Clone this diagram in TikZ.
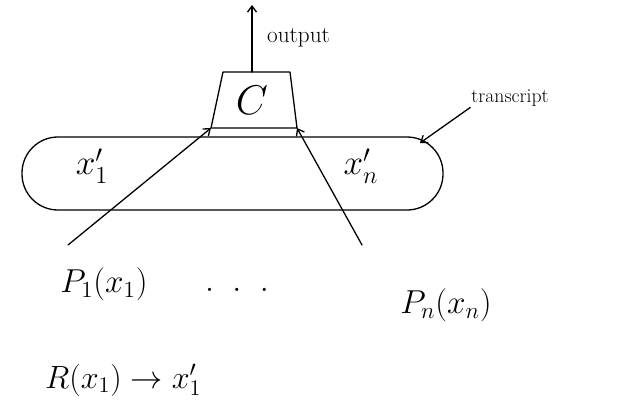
\documentclass[tikz,border=0pt]{standalone}
\usepackage{graphicx}
\usetikzlibrary{arrows.meta}
\newcommand{\enlarge}[2]{\scalebox{#1}{#2}}
\begin{document}
\begin{tikzpicture}[x=1pt,y=-1pt,
  ink/.style={line width=1.3pt, line cap=round, line join=round},
  arr/.style={ink, -{Straight Barb[length=6pt,width=9pt]}},
  lbl/.style={font=\huge, inner sep=1pt},
  mathlbl/.style={font=\huge, inner sep=1pt}]
\useasboundingbox (0,0) rectangle (629,420);

% combiner box C
\coordinate (tl) at (223,72);
\coordinate (tr) at (290,72);
\coordinate (br) at (297,128);
\coordinate (bl) at (211,128);
\coordinate (ctop) at (252,72);
\draw[ink] (tl) -- (tr) -- (br) -- (bl) -- cycle;
\node[mathlbl] (c) at (252,100) {\enlarge{2.0}{$C$}};

% output
\coordinate (out) at (252,5);
\draw[arr] (ctop) -- (out);
\node[lbl, anchor=west] (outlbl) at (266,38) {\enlarge{1.12}{output}};

% transcript
\node[ink, draw, rounded corners=36pt, minimum width=421pt, minimum height=73pt] (blob) at (232.5,173.5) {};
\node[mathlbl] (x1p) at (92,166) {\enlarge{1.7}{$x_1'$}};
\node[mathlbl] (xnp) at (361,166) {\enlarge{1.7}{$x_n'$}};
\node[lbl] (tlabel) at (510,98) {\enlarge{0.95}{transcript}};
\coordinate (tend) at (420,143);
\draw[arr] (tlabel.south west) -- (tend);

% parties
\node[mathlbl] (p1) at (104,284) {\enlarge{1.6}{$P_1(x_1)$}};
\node[mathlbl] (dots) at (237,290) {\enlarge{1.6}{$.\;\;.\;\;.$}};
\node[mathlbl] (pn) at (446,305) {\enlarge{1.6}{$P_n(x_n)$}};
\coordinate (a1) at (68,245);
\coordinate (an) at (362,245);
\draw[arr] (a1) -- (bl);
\draw[arr] (an) -- (br);

% rule
\node[mathlbl, anchor=west] (rule) at (44,380) {\enlarge{1.55}{$R(x_1) \to x_1'$}};
\end{tikzpicture}
\end{document}
